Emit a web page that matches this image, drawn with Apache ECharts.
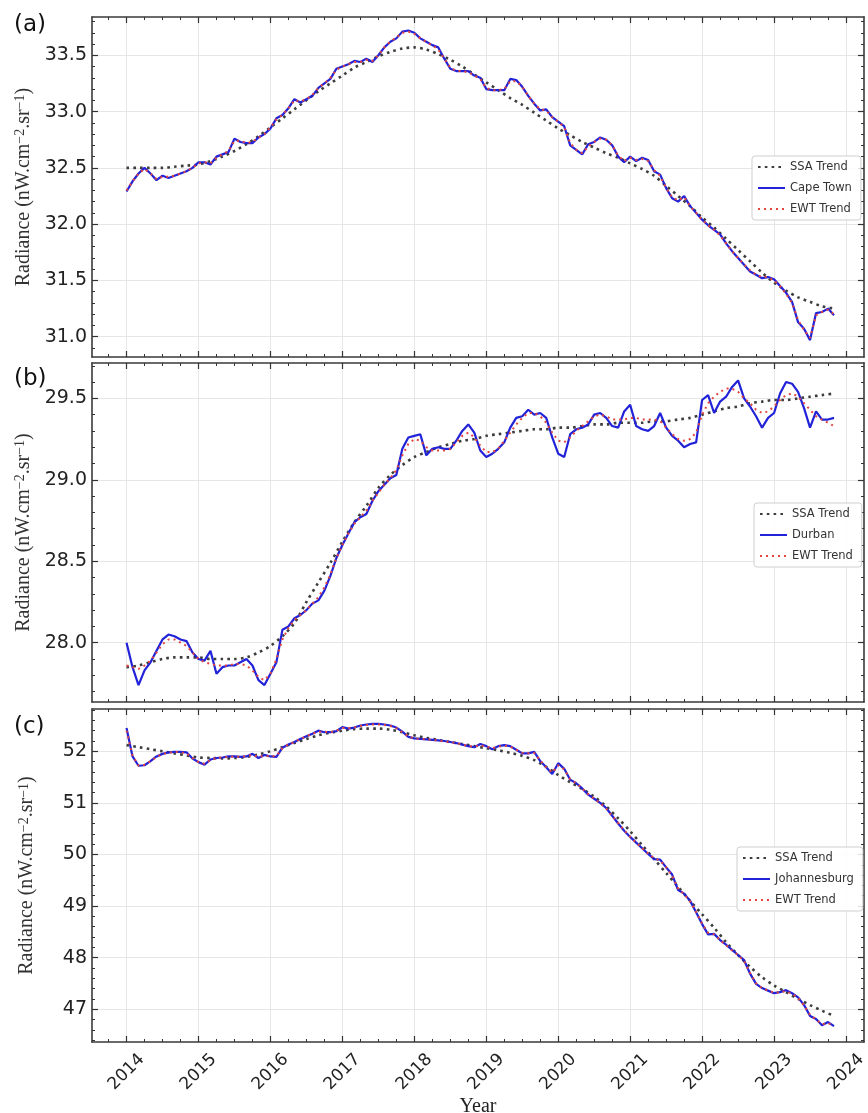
<!DOCTYPE html>
<html>
<head>
<meta charset="utf-8">
<title>Radiance trends</title>
<script src="https://cdn.jsdelivr.net/npm/echarts@6/dist/echarts.min.js"></script>
<style>
  html, body { margin: 0; padding: 0; background: #fff; }
  #chart { width: 868px; height: 1113px; }
</style>
</head>
<body>
<div id="chart"></div>
<script>
// monthly values, Jan 2014 .. Nov 2023 (119 months)
const START_YEAR = 2014;

const capeTown = [
  32.29,32.38,32.45,32.50,32.45,32.39,32.43,32.41,32.43,32.45,32.47,32.50,
  32.55,32.55,32.53,32.60,32.62,32.64,32.76,32.73,32.72,32.72,32.77,32.80,
  32.85,32.94,32.97,33.03,33.11,33.08,33.11,33.14,33.21,33.25,33.29,33.38,
  33.40,33.42,33.45,33.44,33.47,33.44,33.50,33.57,33.62,33.65,33.71,33.72,
  33.70,33.65,33.62,33.59,33.57,33.47,33.38,33.36,33.36,33.36,33.32,33.30,
  33.20,33.19,33.19,33.19,33.29,33.28,33.22,33.14,33.07,33.01,33.02,32.95,
  32.91,32.87,32.70,32.66,32.62,32.71,32.73,32.77,32.75,32.70,32.60,32.55,
  32.60,32.56,32.59,32.57,32.47,32.44,32.32,32.23,32.20,32.25,32.16,32.10,
  32.04,31.99,31.95,31.91,31.83,31.76,31.70,31.64,31.58,31.55,31.52,31.53,
  31.51,31.45,31.39,31.31,31.13,31.07,30.97,31.21,31.22,31.25,31.19
];
const capeTownEWT = [
  32.30,32.38,32.45,32.49,32.45,32.40,32.42,32.42,32.43,32.45,32.47,32.50,
  32.54,32.55,32.54,32.59,32.62,32.65,32.74,32.74,32.72,32.73,32.77,32.80,
  32.86,32.93,32.97,33.03,33.10,33.09,33.11,33.15,33.21,33.25,33.30,33.37,
  33.40,33.42,33.44,33.44,33.46,33.45,33.50,33.57,33.62,33.66,33.70,33.71,
  33.69,33.65,33.62,33.59,33.55,33.47,33.39,33.36,33.36,33.35,33.32,33.29,
  33.21,33.19,33.19,33.20,33.27,33.27,33.22,33.14,33.07,33.02,33.01,32.95,
  32.91,32.86,32.72,32.66,32.63,32.69,32.73,32.76,32.75,32.70,32.61,32.56,
  32.59,32.57,32.58,32.56,32.48,32.43,32.32,32.24,32.21,32.24,32.16,32.10,
  32.04,31.99,31.95,31.90,31.83,31.76,31.70,31.64,31.59,31.55,31.53,31.53,
  31.50,31.45,31.38,31.30,31.15,31.06,30.99,31.19,31.22,31.24,31.20
];
// SSA trends are read every second month
const capeTownSSA = [
  32.50,32.50,32.50,32.50,32.51,32.52,
  32.53,32.56,32.60,32.65,32.71,32.78,
  32.86,32.94,33.02,33.10,33.18,33.25,
  33.32,33.39,33.44,33.49,33.53,33.56,
  33.57,33.55,33.51,33.46,33.40,33.33,
  33.26,33.19,33.12,33.06,32.99,32.92,
  32.85,32.79,32.73,32.68,32.63,32.59,
  32.54,32.49,32.43,32.34,32.25,32.16,
  32.06,31.97,31.87,31.77,31.67,31.57,
  31.48,31.41,31.35,31.31,31.27,31.25
];

const durban = [
  28.00,27.85,27.74,27.83,27.88,27.95,28.02,28.05,28.04,28.02,28.01,27.94,
  27.90,27.89,27.95,27.81,27.85,27.86,27.86,27.88,27.90,27.86,27.77,27.74,
  27.81,27.88,28.08,28.10,28.15,28.17,28.20,28.24,28.26,28.32,28.41,28.52,
  28.60,28.67,28.74,28.77,28.79,28.87,28.93,28.97,29.01,29.03,29.19,29.26,
  29.27,29.28,29.15,29.19,29.20,29.19,29.19,29.24,29.30,29.34,29.29,29.18,
  29.14,29.16,29.19,29.23,29.32,29.38,29.39,29.43,29.40,29.41,29.38,29.26,
  29.16,29.14,29.28,29.31,29.32,29.34,29.40,29.41,29.38,29.33,29.32,29.42,
  29.46,29.33,29.31,29.30,29.33,29.41,29.32,29.27,29.24,29.20,29.22,29.23,
  29.49,29.52,29.41,29.48,29.51,29.57,29.61,29.50,29.45,29.39,29.32,29.38,
  29.41,29.53,29.60,29.59,29.54,29.44,29.32,29.42,29.37,29.37,29.38
];
const durbanEWT = [
  27.86,27.85,27.84,27.86,27.89,27.94,27.99,28.02,28.02,28.00,27.98,27.94,
  27.90,27.88,27.87,27.86,27.86,27.86,27.87,27.87,27.86,27.83,27.79,27.77,
  27.81,27.90,28.02,28.09,28.14,28.17,28.20,28.24,28.28,28.34,28.42,28.52,
  28.60,28.67,28.73,28.77,28.81,28.87,28.92,28.97,29.01,29.06,29.15,29.22,
  29.25,29.24,29.20,29.18,29.18,29.18,29.19,29.23,29.27,29.29,29.26,29.21,
  29.17,29.17,29.19,29.24,29.29,29.34,29.38,29.41,29.41,29.39,29.35,29.29,
  29.24,29.23,29.26,29.30,29.33,29.36,29.39,29.40,29.39,29.37,29.37,29.37,
  29.38,29.38,29.37,29.37,29.37,29.36,29.32,29.28,29.25,29.24,29.25,29.29,
  29.40,29.47,29.51,29.54,29.56,29.56,29.54,29.50,29.47,29.43,29.41,29.42,
  29.45,29.49,29.52,29.53,29.51,29.47,29.43,29.39,29.37,29.35,29.33
];
const durbanSSA = [
  27.85,27.86,27.88,27.90,27.91,27.91,
  27.91,27.90,27.90,27.90,27.91,27.94,
  27.98,28.04,28.12,28.25,28.37,28.49,
  28.62,28.74,28.84,28.95,29.03,29.09,
  29.14,29.17,29.20,29.22,29.24,29.25,
  29.27,29.28,29.29,29.30,29.31,29.31,
  29.32,29.32,29.33,29.34,29.34,29.35,
  29.35,29.35,29.36,29.36,29.37,29.38,
  29.40,29.42,29.44,29.45,29.47,29.48,
  29.49,29.49,29.50,29.51,29.52,29.53
];

const johannesburg = [
  52.45,51.90,51.72,51.73,51.81,51.90,51.95,51.98,51.99,51.99,51.98,51.86,
  51.79,51.74,51.84,51.87,51.88,51.90,51.90,51.89,51.90,51.95,51.87,51.93,
  51.90,51.89,52.07,52.13,52.18,52.24,52.29,52.34,52.40,52.37,52.37,52.39,
  52.47,52.44,52.46,52.50,52.52,52.53,52.53,52.52,52.50,52.46,52.38,52.28,
  52.25,52.24,52.23,52.22,52.21,52.20,52.18,52.16,52.13,52.10,52.08,52.14,
  52.10,52.04,52.10,52.12,52.10,52.03,51.96,51.96,51.99,51.81,51.69,51.56,
  51.77,51.66,51.45,51.38,51.28,51.16,51.08,51.00,50.90,50.75,50.60,50.46,
  50.34,50.23,50.12,50.01,49.91,49.90,49.75,49.61,49.31,49.24,49.10,48.88,
  48.65,48.45,48.46,48.34,48.25,48.15,48.05,47.95,47.69,47.49,47.41,47.36,
  47.31,47.33,47.37,47.31,47.23,47.08,46.87,46.81,46.69,46.75,46.67
];
const johannesburgEWT = [
  52.40,51.92,51.72,51.74,51.81,51.89,51.95,51.97,51.99,51.98,51.96,51.87,
  51.79,51.76,51.83,51.87,51.88,51.89,51.90,51.89,51.91,51.93,51.89,51.91,
  51.90,51.91,52.06,52.13,52.18,52.24,52.29,52.34,52.38,52.38,52.37,52.40,
  52.45,52.45,52.46,52.49,52.51,52.52,52.52,52.51,52.49,52.45,52.37,52.29,
  52.25,52.24,52.23,52.22,52.21,52.19,52.18,52.16,52.13,52.10,52.09,52.12,
  52.09,52.06,52.09,52.11,52.09,52.03,51.97,51.96,51.97,51.82,51.69,51.59,
  51.73,51.65,51.46,51.38,51.28,51.17,51.08,50.99,50.89,50.75,50.61,50.47,
  50.34,50.23,50.12,50.02,49.93,49.88,49.75,49.59,49.34,49.23,49.09,48.88,
  48.66,48.48,48.45,48.34,48.24,48.14,48.05,47.93,47.70,47.50,47.41,47.36,
  47.32,47.33,47.35,47.30,47.22,47.07,46.89,46.80,46.71,46.73,46.68
];
const johannesburgSSA = [
  52.12,52.08,52.04,52.00,51.96,51.92,
  51.88,51.87,51.86,51.87,51.89,51.94,
  52.00,52.08,52.16,52.24,52.31,52.36,
  52.40,52.43,52.44,52.44,52.42,52.37,
  52.31,52.26,52.22,52.18,52.14,52.10,
  52.06,52.02,51.97,51.91,51.83,51.70,
  51.54,51.40,51.27,51.12,50.93,50.70,
  50.45,50.18,49.91,49.64,49.37,49.10,
  48.84,48.58,48.30,48.05,47.82,47.62,
  47.46,47.33,47.20,47.08,46.97,46.87
];

// tick labels
const yearTicks = [2014, 2015, 2016, 2017, 2018, 2019, 2020, 2021, 2022, 2023, 2024];
const yTicksA = [31.0, 31.5, 32.0, 32.5, 33.0, 33.5];
const yTicksB = [28.0, 28.5, 29.0, 29.5];
const yTicksC = [47, 48, 49, 50, 51, 52];

const X_MIN = 2013.52, X_MAX = 2024.25;

const panels = [
  { label: '(a)', city: 'Cape Town', obs: capeTown, ewt: capeTownEWT, ssa: capeTownSSA,
    yMin: 30.82, yMax: 33.84, yTicks: yTicksA, yMajor: 0.5, yMinor: 0.1, digits: 1,
    top: 17, height: 340, legendLeft: 752, legendTop: 156, labelTop: 14 },
  { label: '(b)', city: 'Durban', obs: durban, ewt: durbanEWT, ssa: durbanSSA,
    yMin: 27.636, yMax: 29.717, yTicks: yTicksB, yMajor: 0.5, yMinor: 0.1, digits: 1,
    top: 363, height: 339, legendLeft: 754, legendTop: 503, labelTop: 368 },
  { label: '(c)', city: 'Johannesburg', obs: johannesburg, ewt: johannesburgEWT, ssa: johannesburgSSA,
    yMin: 46.364, yMax: 52.82, yTicks: yTicksC, yMajor: 1, yMinor: 0.2, digits: 0,
    top: 709, height: 333, legendLeft: 737, legendTop: 847, labelTop: 716 }
];

function minorValues(min, max, step, majorStep) {
  const out = [];
  for (let k = Math.ceil(min / step - 1e-9); k * step <= max + 1e-9; k++) {
    const v = +(k * step).toFixed(4);
    const r = v / majorStep;
    if (Math.abs(r - Math.round(r)) > 1e-6 && v > min && v < max) out.push(v);
  }
  return out;
}

const FRAME = { show: true, onZero: false, lineStyle: { color: '#3a3a3a', width: 1.6 } };
const NO_LINE = { show: false, onZero: false };
const majorTick = vals => ({ show: true, inside: true, length: 6, customValues: vals, lineStyle: { color: '#333', width: 1.2 } });
const minorTick = vals => ({ show: true, inside: true, length: 3, customValues: vals, lineStyle: { color: '#333', width: 1 } });
const GRID_LINE = { show: true, lineStyle: { color: '#e6e6e6', width: 1 } };
const HIDE = { show: false };

const BLUE = '#2222d8', SSA_COLOR = '#3d3d3d', EWT_COLOR = '#e2463f';

const xMinor = minorValues(X_MIN, X_MAX, 0.25, 1);

const grids = [], xAxes = [], yAxes = [], series = [], legends = [], graphics = [];

panels.forEach((p, g) => {
  const last = g === panels.length - 1;
  grids.push({ left: 92, right: 4, top: p.top, height: p.height, containLabel: false, outerBoundsMode: 'none' });

  const xb = { type: 'value', gridIndex: g, min: X_MIN, max: X_MAX };
  xAxes.push(Object.assign({}, xb, {
    position: 'bottom', axisLine: FRAME, axisTick: majorTick(yearTicks), splitLine: GRID_LINE,
    axisLabel: last ? {
      show: true, customValues: yearTicks, rotate: 45, align: 'center', verticalAlign: 'middle', margin: 30,
      fontSize: 17, fontFamily: 'DejaVu Sans', color: '#222',
      formatter: v => Number.isInteger(v) ? String(v) : ''
    } : { show: false, customValues: yearTicks },
    name: last ? 'Year' : '', nameLocation: 'middle', nameGap: 51,
    nameTextStyle: { fontFamily: 'Liberation Serif', fontSize: 20, color: '#222' }
  }));
  xAxes.push(Object.assign({}, xb, { position: 'bottom', axisLine: NO_LINE, axisTick: minorTick(xMinor), axisLabel: HIDE, splitLine: HIDE }));
  xAxes.push(Object.assign({}, xb, { position: 'top', axisLine: FRAME, axisTick: majorTick(yearTicks), axisLabel: HIDE, splitLine: HIDE }));
  xAxes.push(Object.assign({}, xb, { position: 'top', axisLine: NO_LINE, axisTick: minorTick(xMinor), axisLabel: HIDE, splitLine: HIDE }));

  const yMinorVals = minorValues(p.yMin, p.yMax, p.yMinor, p.yMajor);
  const yb = { type: 'value', gridIndex: g, min: p.yMin, max: p.yMax, scale: true };
  yAxes.push(Object.assign({}, yb, {
    position: 'left', axisLine: FRAME, axisTick: majorTick(p.yTicks), splitLine: GRID_LINE,
    axisLabel: {
      show: true, customValues: p.yTicks, margin: 5, fontSize: 19, fontFamily: 'DejaVu Sans', color: '#222',
      formatter: v => {
        const r = v / p.yMajor;
        return Math.abs(r - Math.round(r)) < 1e-6 ? v.toFixed(p.digits) : '';
      }
    },
    name: '{t|Radiance (nW.cm}{s|\u22122}{t|.sr}{s|\u22121}{t|)}',
    nameLocation: 'middle', nameRotate: 90, nameGap: 55,
    nameTextStyle: {
      rich: {
        t: { fontFamily: 'Liberation Serif', fontSize: 20, color: '#333' },
        s: { fontFamily: 'Liberation Serif', fontSize: 14, color: '#333', verticalAlign: 'top' }
      }
    }
  }));
  yAxes.push(Object.assign({}, yb, { position: 'left', axisLine: NO_LINE, axisTick: minorTick(yMinorVals), axisLabel: HIDE, splitLine: HIDE }));
  yAxes.push(Object.assign({}, yb, { position: 'right', axisLine: FRAME, axisTick: majorTick(p.yTicks), axisLabel: HIDE, splitLine: HIDE }));
  yAxes.push(Object.assign({}, yb, { position: 'right', axisLine: NO_LINE, axisTick: minorTick(yMinorVals), axisLabel: HIDE, splitLine: HIDE }));

  const axisIdx = { xAxisIndex: 4 * g, yAxisIndex: 4 * g };
  series.push(Object.assign({
    name: 'SSA Trend', type: 'line', symbol: 'none', smooth: 0.3, z: 2,
    data: p.ssa.map((v, k) => [START_YEAR + (2 * k) / 12, v]),
    itemStyle: { color: SSA_COLOR },
    lineStyle: { color: SSA_COLOR, width: 2.6, type: [2.6, 4.2] }
  }, axisIdx));
  series.push(Object.assign({
    name: p.city, type: 'line', symbol: 'none', z: 3,
    data: p.obs.map((v, i) => [START_YEAR + i / 12, v]),
    itemStyle: { color: BLUE },
    lineStyle: { color: BLUE, width: 2.2 }
  }, axisIdx));
  series.push(Object.assign({
    name: 'EWT Trend', type: 'line', symbol: 'none', z: 4,
    data: p.ewt.map((v, i) => [START_YEAR + i / 12, v]),
    itemStyle: { color: EWT_COLOR },
    lineStyle: { color: EWT_COLOR, width: 2, type: [2, 4] }
  }, axisIdx));

  legends.push({
    data: ['SSA Trend', p.city, 'EWT Trend'],
    orient: 'vertical', left: p.legendLeft, top: p.legendTop,
    itemWidth: 27, itemHeight: 8, itemGap: 9,
    padding: [5, 9, 5, 5],
    itemStyle: { opacity: 0 },
    backgroundColor: 'rgba(255,255,255,0.85)', borderColor: '#cfcfcf', borderWidth: 1, borderRadius: 3,
    selectedMode: false,
    textStyle: { fontFamily: 'DejaVu Sans', fontSize: 11.5, color: '#333' }
  });

  graphics.push({
    type: 'text', left: 14, top: p.labelTop,
    style: { text: p.label, fontFamily: 'DejaVu Sans', fontSize: 23, fill: '#111' }
  });
});

const chart = echarts.init(document.getElementById('chart'));
chart.setOption({
  animation: false,
  backgroundColor: '#fff',
  grid: grids,
  xAxis: xAxes,
  yAxis: yAxes,
  legend: legends,
  graphic: graphics,
  series: series
});
window.addEventListener('resize', () => chart.resize());
</script>
</body>
</html>
